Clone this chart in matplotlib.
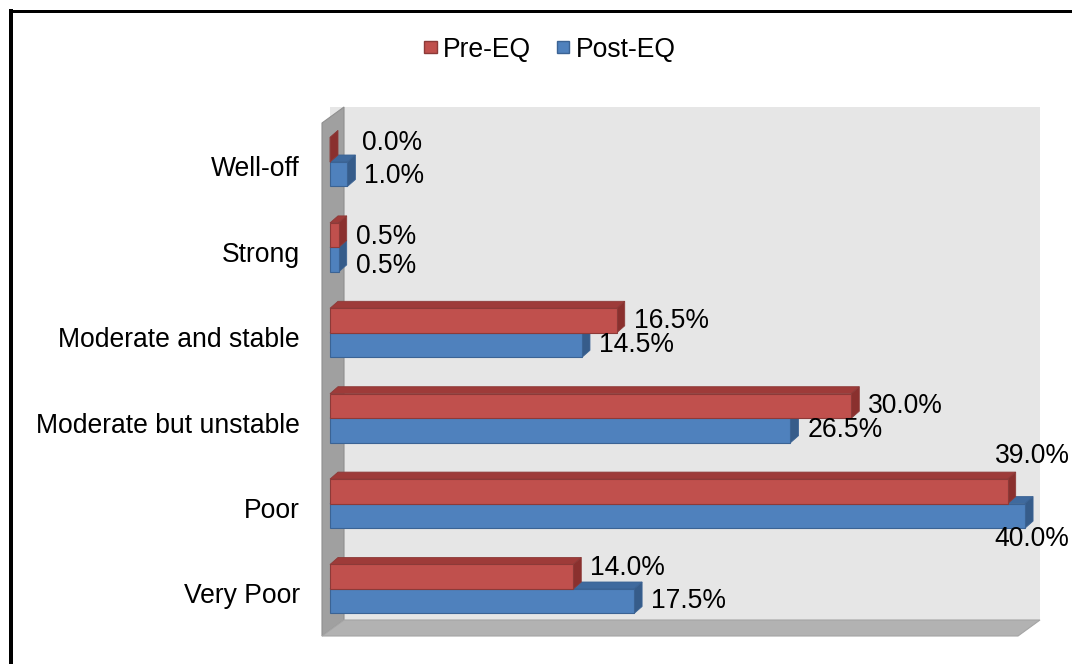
import matplotlib
matplotlib.use("Agg")
import matplotlib.pyplot as plt
from matplotlib.patches import Polygon, Patch
from matplotlib.lines import Line2D
import matplotlib.transforms as mtrans
import numpy as np

# ---------------- data ----------------
categories = ["Well-off", "Strong", "Moderate and stable",
              "Moderate but unstable", "Poor", "Very Poor"]
pre_eq = [0.0, 0.5, 16.5, 30.0, 39.0, 14.0]
post_eq = [1.0, 0.5, 14.5, 26.5, 40.0, 17.5]
series_names = ["Pre-EQ", "Post-EQ"]

# ---------------- style ----------------
W, H, DPI = 1072, 664, 100
plt.rcParams['font.family'] = ['Liberation Sans', 'DejaVu Sans']
FS = 19.1
PT = 72.0 / DPI  # points per pixel

red_front, red_top, red_side, red_edge = '#C0504D', '#9E3B39', '#8A302E', '#8C3A38'
blue_front, blue_top, blue_side, blue_edge = '#4F81BD', '#3F6A9E', '#365C8A', '#3B6394'

fig = plt.figure(figsize=(W / DPI, H / DPI), dpi=DPI)
fig.patch.set_facecolor('white')

ax_l, ax_r, ax_t, ax_b = 330, 1040, 107, 620
ax = fig.add_axes([ax_l / W, 1 - ax_b / H, (ax_r - ax_l) / W, (ax_b - ax_t) / H])
ax.set_facecolor('#e6e6e6')
XMAX = 40.86
YLIM = (5.363, -0.644)
ax.set_xlim(0, XMAX)
ax.set_ylim(*YLIM)
for s in ax.spines.values():
    s.set_visible(False)
ax.set_xticks([])
ypos = np.arange(len(categories))
ax.set_yticks(ypos, categories, fontsize=FS)
ax.tick_params(axis='y', length=0, pad=21.6)
shift = mtrans.ScaledTranslation(0, -4.5 / DPI, fig.dpi_scale_trans)
for lab in ax.get_yticklabels():
    lab.set_transform(lab.get_transform() + shift)

# pixel -> data scales
px_x = (ax_r - ax_l) / XMAX
px_y = (ax_b - ax_t) / (YLIM[0] - YLIM[1])
DX_PX, DY_PX = 8, 7
dx = DX_PX / px_x
dy = DY_PX / px_y
h = 24.5 / px_y

# ---------------- walls ----------------
def fx(px):
    return (px - ax_l) / (ax_r - ax_l)

def fy(py):
    return (ax_b - py) / (ax_b - ax_t)

WDX, WDY = 22, 16
left_wall = [(fx(ax_l - 8), fy(ax_t + WDY)), (fx(ax_l - 8 + WDX), fy(ax_t)),
             (fx(ax_l - 8 + WDX), fy(ax_b)), (fx(ax_l - 8), fy(ax_b + WDY))]
floor = [(fx(ax_l - 8), fy(ax_b + WDY)), (fx(ax_l - 8 + WDX), fy(ax_b)),
         (fx(ax_r), fy(ax_b)), (fx(ax_r - WDX), fy(ax_b + WDY))]
ax.add_patch(Polygon(left_wall, closed=True, transform=ax.transAxes, clip_on=False,
                     facecolor='#a0a0a0', edgecolor='#8f8f8f', lw=0.8, zorder=0.5))
ax.add_patch(Polygon(floor, closed=True, transform=ax.transAxes, clip_on=False,
                     facecolor='#b2b2b2', edgecolor='#a5a5a5', lw=0.8, zorder=0.5))


# ---------------- bars ----------------
def bar3d(yc, vals, front, top, side, edge, z):
    bars = ax.barh(yc, vals, height=h, color=front, edgecolor=edge,
                   linewidth=0.8, zorder=z + 0.2, clip_on=False)
    for rect in bars:
        x0 = rect.get_x()
        x1 = x0 + rect.get_width()
        yt = rect.get_y()
        yb = yt + rect.get_height()
        ax.add_patch(Polygon([(x0, yt), (x1, yt), (x1 + dx, yt - dy), (x0 + dx, yt - dy)],
                             closed=True, facecolor=top, edgecolor=edge, lw=0.6,
                             zorder=z, clip_on=False))
        ax.add_patch(Polygon([(x1, yt), (x1, yb), (x1 + dx, yb - dy), (x1 + dx, yt - dy)],
                             closed=True, facecolor=side, edgecolor=edge, lw=0.6,
                             zorder=z + 0.1, clip_on=False))
    return bars


red_y = ypos - h / 2
blue_y = ypos + h / 2
bar3d(blue_y, post_eq, blue_front, blue_top, blue_side, blue_edge, 2)
bar3d(red_y, pre_eq, red_front, red_top, red_side, red_edge, 3)

# ---------------- value labels ----------------
GAP_PX = 9
nudge = {("pre", 0): (15, -7), ("post", 0): (0, 2), ("pre", 1): (0, 2),
         ("post", 1): (0, 6), ("pre", 5): (0, -9)}
outside = {"Poor"}


def fmt(v):
    return f"{v:.1f}%"


for key, vals, yc in (("pre", pre_eq, red_y), ("post", post_eq, blue_y)):
    for i, v in enumerate(vals):
        if categories[i] in outside:
            vmax = max(pre_eq[i], post_eq[i])
            oy = -35.5 if key == "pre" else 23.5
            ax.annotate(fmt(v), xy=(vmax, yc[i]), xytext=(7 * PT, -oy * PT),
                        textcoords='offset points', ha='center', va='center',
                        fontsize=FS, annotation_clip=False, zorder=6)
            continue
        nx, ny = nudge.get((key, i), (0, 0))
        ax.annotate(fmt(v), xy=(v, yc[i]), xytext=((DX_PX + GAP_PX + nx) * PT, -ny * PT),
                    textcoords='offset points', ha='left', va='center',
                    fontsize=FS, annotation_clip=False, zorder=6)

# ---------------- legend ----------------
handles = [Patch(facecolor=red_front, edgecolor=red_edge),
           Patch(facecolor=blue_front, edgecolor=blue_edge)]
fig.legend(handles, series_names, loc='center', bbox_to_anchor=(550 / W, 1 - 49.5 / H),
           ncol=2, frameon=False, fontsize=FS, handlelength=0.47, handleheight=0.33,
           handletextpad=0.25, columnspacing=0.95, borderpad=0, borderaxespad=0)

# ---------------- outer border ----------------
fig.add_artist(Line2D([11 / W, 11 / W], [0, 1 - 9 / H], color='black', lw=4 * PT,
                      transform=fig.transFigure, solid_capstyle='butt'))
fig.add_artist(Line2D([9 / W, 1], [1 - 10.5 / H, 1 - 10.5 / H], color='black', lw=3 * PT,
                      transform=fig.transFigure, solid_capstyle='butt'))

fig.savefig("out.png", dpi=DPI, facecolor='white')
